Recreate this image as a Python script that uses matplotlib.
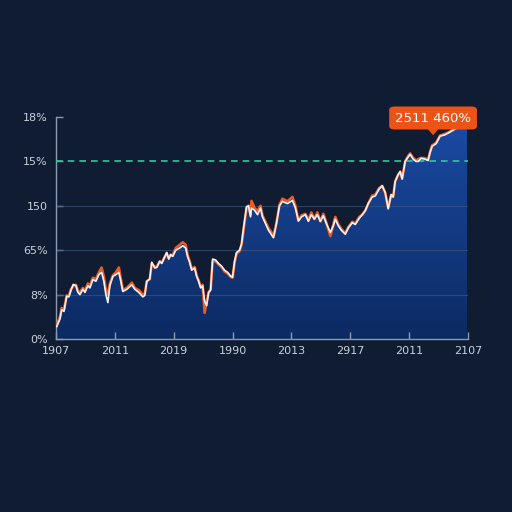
import numpy as np
import matplotlib
matplotlib.use("Agg")
import matplotlib.pyplot as plt
from matplotlib.patches import FancyBboxPatch, Polygon
from matplotlib.colors import LinearSegmentedColormap

# ---- data (x in tick-slot units, y in gridline units) ----
x_px = [56.7, 58, 60, 61.7, 64, 66.7, 69, 71, 73.3, 76, 78, 80, 83, 85, 88, 90, 93, 96, 99, 101.7,
        104, 106, 108, 110, 113, 116, 119, 121, 123, 127, 132, 135, 139, 143, 145, 147, 150, 152, 155, 157,
        160, 162, 165, 167, 169, 171, 173, 176, 180, 183, 186, 188, 190, 192, 195, 197, 199, 201, 203, 205,
        207, 209, 211, 213, 216, 219, 222, 225, 228, 231, 233, 235, 237, 240, 242, 244, 247, 249, 251, 252,
        255, 258, 261, 263, 266, 269, 272, 274, 277, 280, 283, 288, 293, 296, 299, 302, 306, 309, 312, 315,
        318, 321, 324, 327, 331, 334, 336, 339, 342, 346, 349, 353, 356, 360, 363, 366, 369, 373, 376, 380,
        383, 386, 389, 392, 394, 396, 399, 401, 403, 406, 409, 411, 414, 417, 419, 422, 426, 429, 431, 433,
        437, 441, 446, 450, 456, 460, 464, 468]
white = [0.28, 0.35, 0.45, 0.66, 0.62, 0.96, 0.95, 1.10, 1.23, 1.20, 1.05, 1.00, 1.12, 1.05, 1.20, 1.15, 1.34, 1.30, 1.45, 1.50,
         1.30, 1.00, 0.82, 1.20, 1.41, 1.45, 1.50, 1.30, 1.07, 1.12, 1.22, 1.12, 1.05, 0.95, 0.98, 1.30, 1.35, 1.73, 1.60, 1.61,
         1.75, 1.70, 1.85, 1.95, 1.80, 1.90, 1.86, 2.00, 2.05, 2.10, 2.05, 1.85, 1.73, 1.55, 1.60, 1.41, 1.30, 1.15, 1.20, 0.85,
         0.75, 1.05, 1.10, 1.80, 1.78, 1.70, 1.64, 1.55, 1.50, 1.42, 1.39, 1.75, 1.95, 2.00, 2.14, 2.50, 2.98, 3.00, 2.75, 2.95,
         2.90, 2.80, 2.95, 2.75, 2.60, 2.45, 2.35, 2.28, 2.60, 3.00, 3.10, 3.05, 3.12, 2.95, 2.66, 2.75, 2.80, 2.65, 2.80, 2.70,
         2.80, 2.65, 2.78, 2.60, 2.40, 2.55, 2.70, 2.55, 2.45, 2.36, 2.50, 2.62, 2.58, 2.72, 2.80, 2.89, 3.05, 3.20, 3.22, 3.38,
         3.45, 3.30, 2.93, 3.25, 3.20, 3.55, 3.70, 3.77, 3.60, 4.00, 4.10, 4.16, 4.05, 4.00, 4.00, 4.07, 4.05, 4.02, 4.20, 4.34,
         4.40, 4.57, 4.60, 4.65, 4.73, 4.78, 4.80, 4.84]
orange = [0.30, 0.38, 0.50, 0.70, 0.66, 0.98, 0.98, 1.12, 1.20, 1.22, 1.08, 1.05, 1.15, 1.08, 1.25, 1.20, 1.38, 1.35, 1.50, 1.61,
          1.40, 1.10, 1.00, 1.25, 1.43, 1.50, 1.61, 1.35, 1.10, 1.15, 1.27, 1.15, 1.10, 1.00, 1.02, 1.30, 1.35, 1.70, 1.62, 1.63,
          1.75, 1.72, 1.85, 1.93, 1.82, 1.90, 1.88, 2.05, 2.12, 2.18, 2.12, 1.88, 1.75, 1.58, 1.62, 1.43, 1.32, 1.18, 1.22, 0.59,
          0.85, 1.05, 1.12, 1.75, 1.75, 1.68, 1.62, 1.52, 1.48, 1.40, 1.38, 1.72, 1.92, 1.98, 2.12, 2.45, 2.95, 3.00, 2.80, 3.11,
          2.95, 2.88, 3.00, 2.78, 2.64, 2.50, 2.40, 2.30, 2.62, 3.02, 3.16, 3.10, 3.20, 3.00, 2.66, 2.78, 2.82, 2.68, 2.85, 2.70,
          2.85, 2.65, 2.82, 2.62, 2.32, 2.58, 2.75, 2.58, 2.48, 2.38, 2.52, 2.64, 2.60, 2.75, 2.80, 2.89, 3.05, 3.23, 3.25, 3.40,
          3.45, 3.30, 2.95, 3.25, 3.20, 3.55, 3.70, 3.77, 3.62, 4.00, 4.12, 4.18, 4.08, 4.02, 4.05, 4.08, 4.07, 4.04, 4.22, 4.36,
          4.42, 4.58, 4.62, 4.66, 4.74, 4.78, 4.81, 4.84]
x_ticklabels = ["1907", "2011", "2019", "1990", "2013", "2917", "2011", "2107"]
y_ticklabels = ["0%", "8%", "65%", "150", "15%", "18%"]
threshold = 4.0
callout_text = "2511 460%"

x = (np.array(x_px) - 56) / 59.0
yw = np.array(white)
yo = np.array(orange)

BG = "#0f1c31"
fig = plt.figure(figsize=(5.12, 5.12), dpi=100, facecolor=BG)
ax = fig.add_axes([56/512, 1-339/512, 412/512, 222/512])
ax.set_facecolor(BG)
ax.set_xlim(0, 7)
ax.set_ylim(0, 5)

# gradient fill under curve
grad = np.linspace(0, 1, 256).reshape(-1, 1)
cmap = LinearSegmentedColormap.from_list("g", ["#0c2a62", "#1b4ba5"])
im = ax.imshow(grad, extent=[0, 7, 0, 5], origin="lower", aspect="auto", cmap=cmap, zorder=1)
verts = [(x[0], 0)] + list(zip(x, yw)) + [(x[-1], 0)]
poly = Polygon(verts, closed=True, transform=ax.transData, facecolor="none", edgecolor="none")
ax.add_patch(poly)
im.set_clip_path(poly)

# gridlines
for g in [1, 2, 3]:
    ax.axhline(g, color="#3a5578", lw=0.8, alpha=0.7, zorder=2)
ax.axhline(threshold, color="#2fc7a0", lw=1.2, ls=(0, (4, 3)), zorder=4)

ax.plot(x, yo, color="#f05a22", lw=1.9, zorder=5, solid_joinstyle="round")
ax.plot(x, yw, color="#f2f4f8", lw=1.2, zorder=6, solid_joinstyle="round")

ax.set_xticks(range(8))
ax.set_xticklabels(x_ticklabels)
ax.set_yticks(range(6))
ax.set_yticklabels(y_ticklabels)
ax.tick_params(colors="#c9d2de", labelsize=8, direction="in", length=5, width=1, color="#8a9ab0")
ax.tick_params(axis="x", pad=5)
ax.tick_params(axis="y", pad=6)
for s in ["top", "right"]:
    ax.spines[s].set_visible(False)
for s in ["left", "bottom"]:
    ax.spines[s].set_color("#8a9ab0")
    ax.spines[s].set_linewidth(1)

# callout (in data units: 59 px per x unit, 44.4 px per y unit)
cx, cy = (434 - 56) / 59.0, (339 - 118) / 44.4
bw, bh = 88 / 59.0, 23 / 44.4
box = FancyBboxPatch((cx - bw / 2, cy - bh / 2), bw, bh, boxstyle="round,pad=0.0,rounding_size=0.1",
                     facecolor="#ec5317", edgecolor="none", transform=ax.transData, clip_on=False,
                     mutation_aspect=44.4 / 59.0 * 1.0, zorder=8)
ax.add_patch(box)
tri = Polygon([(cx - 0.09, cy - bh / 2 + 0.01), (cx + 0.09, cy - bh / 2 + 0.01), (cx, cy - bh / 2 - 0.13)],
              closed=True, facecolor="#ec5317", edgecolor="none", clip_on=False, zorder=8)
ax.add_patch(tri)
ax.text(cx, cy, callout_text, color="white", fontsize=9.5, ha="center", va="center", zorder=9)

fig.savefig("out.png", dpi=100, facecolor=BG)
